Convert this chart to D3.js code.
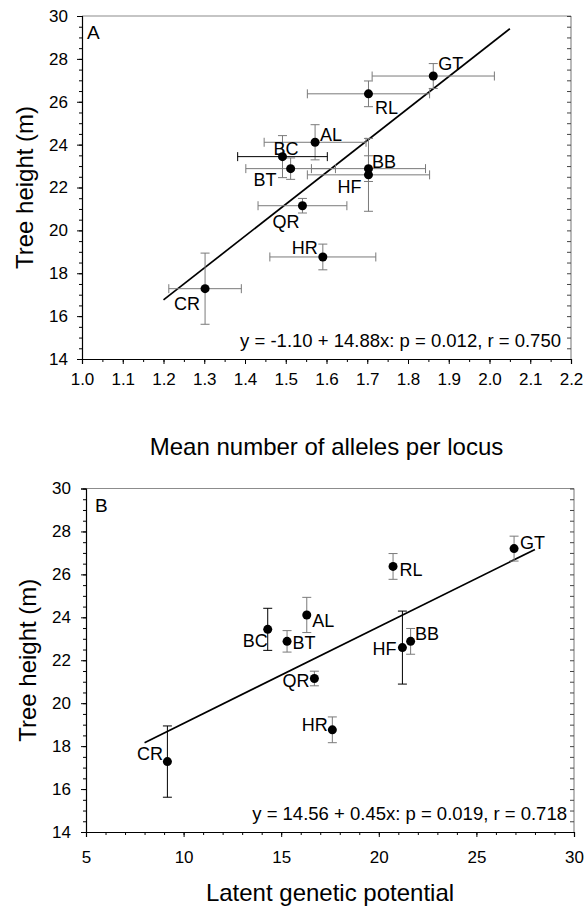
<!DOCTYPE html>
<html>
<head>
<meta charset="utf-8">
<script src="https://cdn.jsdelivr.net/npm/d3@7"></script>
<style>
  html, body { margin: 0; padding: 0; background: #fff; }
  svg { display: block; font-family: "Liberation Sans", Arial, Helvetica, sans-serif; }
</style>
</head>
<body>
<svg id="chart" width="587" height="908"></svg>
<script>
// ---------------- DATA ----------------
const sites = ["GT", "RL", "AL", "BC", "BT", "BB", "HF", "QR", "HR", "CR"];
const treeHeight = [27.20, 26.37, 24.11, 23.44, 22.88, 22.88, 22.59, 21.15, 18.76, 17.28];
const treeHeightErr = [0.58, 0.60, 0.82, 0.98, 0.50, 0.60, 1.70, 0.34, 0.60, 1.66];
const allelesPerLocus = [1.862, 1.703, 1.572, 1.492, 1.512, 1.703, 1.703, 1.541, 1.591, 1.302];
const allelesErr = [0.150, 0.150, 0.125, 0.110, 0.110, 0.140, 0.150, 0.109, 0.130, 0.089];
const latentPotential = [26.93, 20.73, 16.31, 14.31, 15.30, 21.63, 21.21, 16.70, 17.62, 9.17];

const fitA = { intercept: -1.10, slope: 14.88, xFrom: 1.2, xTo: 2.05 };
const fitB = { intercept: 14.56, slope: 0.45, xFrom: 8, xTo: 28 };
const statsA = "y = -1.10 + 14.88x: p = 0.012, r = 0.750";
const statsB = "y = 14.56 + 0.45x: p = 0.019, r = 0.718";

const xTicksA = d3.range(1.0, 2.2001, 0.1);
const xMinorA = d3.range(1.0, 2.2001, 0.05);
const xTicksB = [5, 10, 15, 20, 25, 30];
const xMinorB = d3.range(5, 30.001, 1);
const yTicks = [14, 16, 18, 20, 22, 24, 26, 28, 30];
const yMinor = d3.range(14, 30.001, 0.5);

// ---------------- LAYOUT / STYLE ----------------
// label offsets (px) from the point, and anchor
const labelPosA = {
  GT: [5, -6, "start"], RL: [6.5, 20.5, "start"], AL: [5, -1, "start"],
  BC: [-9, -2, "start"], BT: [-14, 17, "end"], BB: [3.5, -1, "start"],
  HF: [-7, 18.5, "end"], QR: [-3, 22.5, "end"], HR: [-5, -2.5, "end"],
  CR: [-5, 21.5, "end"]
};
const labelPosB = {
  GT: [6, 0, "start"], RL: [6.5, 9.5, "start"], AL: [5.5, 12, "start"],
  BC: [0, 17.5, "end"], BT: [5.5, 8, "start"], BB: [4.5, -1, "start"],
  HF: [-6, 7.5, "end"], QR: [-5, 8.5, "end"], HR: [-4.5, 1.5, "end"],
  CR: [-4.5, -2, "end"]
};
const blackBarsA = { BC: { h: true, v: false } };
const blackBarsB = { BC: { v: true }, CR: { v: true }, HF: { v: true } };

const svg = d3.select("#chart");
const GRAY = "#7a7a7a";

function panel(opts) {
  const g = svg.append("g");
  const x = d3.scaleLinear().domain(opts.xDomain).range([opts.left, opts.right]);
  const y = d3.scaleLinear().domain([14, 30]).range([opts.bottom, opts.top]);

  // frame top & right (gray)
  g.append("line").attr("x1", opts.left).attr("x2", opts.right)
    .attr("y1", opts.top).attr("y2", opts.top).attr("stroke", "#8c8c8c").attr("stroke-width", 1.2);
  g.append("line").attr("x1", opts.right).attr("x2", opts.right)
    .attr("y1", opts.top).attr("y2", opts.bottom).attr("stroke", "#8c8c8c").attr("stroke-width", 1.2);

  // right inward minor ticks
  const rightAx = g.append("g").attr("transform", `translate(${opts.right},0)`)
    .call(d3.axisLeft(y).tickValues(yMinor).tickSize(4).tickFormat(""));
  rightAx.select(".domain").remove();
  rightAx.selectAll(".tick line").attr("stroke", "#444");

  // left axis minor
  const lMinor = g.append("g").attr("transform", `translate(${opts.left},0)`)
    .call(d3.axisLeft(y).tickValues(yMinor).tickSize(3).tickFormat(""));
  lMinor.select(".domain").remove();
  // left axis major
  const lAx = g.append("g").attr("transform", `translate(${opts.left},0)`)
    .call(d3.axisLeft(y).tickValues(yTicks).tickSize(5).tickPadding(opts.yPad).tickFormat(d3.format("d")));
  lAx.selectAll("text").attr("font-size", 17).attr("fill", "#000").attr("font-family", null);
  lAx.select(".domain").attr("stroke", "#000");

  // bottom axis minor
  const bMinor = g.append("g").attr("transform", `translate(0,${opts.bottom})`)
    .call(d3.axisBottom(x).tickValues(opts.xMinor).tickSize(3).tickFormat(""));
  bMinor.select(".domain").remove();
  const bAx = g.append("g").attr("transform", `translate(0,${opts.bottom})`)
    .call(d3.axisBottom(x).tickValues(opts.xTicks).tickSize(5).tickPadding(opts.xPad).tickFormat(opts.xFmt));
  bAx.selectAll("text").attr("font-size", 17).attr("fill", "#000").attr("font-family", null);
  bAx.select(".domain").attr("stroke", "#000");
  g.selectAll(".tick line").attr("stroke-width", 1);
  g.selectAll(".domain").attr("stroke-width", 1.2);

  // axis titles
  g.append("text").attr("x", (opts.left + opts.right) / 2).attr("y", opts.xTitleY)
    .attr("text-anchor", "middle").attr("font-size", 24).text(opts.xTitle);
  g.append("text")
    .attr("transform", `translate(${opts.yTitleX},${(opts.top + opts.bottom) / 2}) rotate(-90)`)
    .attr("text-anchor", "middle").attr("font-size", 24).text("Tree height (m)");

  // panel letter
  g.append("text").attr("x", opts.left + opts.letterDx).attr("y", opts.top + 23)
    .attr("font-size", 19).text(opts.letter);

  // regression line
  g.append("line")
    .attr("x1", x(opts.fit.xFrom)).attr("y1", y(opts.fit.intercept + opts.fit.slope * opts.fit.xFrom))
    .attr("x2", x(opts.fit.xTo)).attr("y2", y(opts.fit.intercept + opts.fit.slope * opts.fit.xTo))
    .attr("stroke", "#000").attr("stroke-width", 1.7);

  const pts = sites.map((s, i) => ({
    site: s, x: opts.xs[i], xe: opts.xErr ? opts.xErr[i] : 0,
    y: treeHeight[i], ye: treeHeightErr[i]
  }));

  const cap = 4.5;
  const eb = g.append("g");
  pts.forEach(p => {
    const bl = opts.black[p.site] || {};
    // horizontal error bar
    if (p.xe > 0) {
      const c = bl.h ? "#000" : GRAY;
      const xa = x(p.x - p.xe), xb = x(p.x + p.xe), yy = y(p.y);
      eb.append("line").attr("x1", xa).attr("x2", xb).attr("y1", yy).attr("y2", yy).attr("stroke", c);
      eb.append("line").attr("x1", xa).attr("x2", xa).attr("y1", yy - cap).attr("y2", yy + cap).attr("stroke", c);
      eb.append("line").attr("x1", xb).attr("x2", xb).attr("y1", yy - cap).attr("y2", yy + cap).attr("stroke", c);
    }
    // vertical error bar
    const c = bl.v ? "#000" : GRAY;
    const xx = x(p.x), ya = y(p.y + p.ye), yb = y(p.y - p.ye);
    eb.append("line").attr("x1", xx).attr("x2", xx).attr("y1", ya).attr("y2", yb).attr("stroke", c);
    eb.append("line").attr("x1", xx - cap).attr("x2", xx + cap).attr("y1", ya).attr("y2", ya).attr("stroke", c);
    eb.append("line").attr("x1", xx - cap).attr("x2", xx + cap).attr("y1", yb).attr("y2", yb).attr("stroke", c);
  });

  g.append("g").selectAll("circle").data(pts).join("circle")
    .attr("cx", d => x(d.x)).attr("cy", d => y(d.y)).attr("r", 4.5).attr("fill", "#000");

  g.append("g").selectAll("text").data(pts).join("text")
    .attr("x", d => x(d.x) + opts.labels[d.site][0])
    .attr("y", d => y(d.y) + opts.labels[d.site][1])
    .attr("text-anchor", d => opts.labels[d.site][2])
    .attr("font-size", 18).text(d => d.site);

  // stats
  g.append("text").attr("x", opts.right - opts.statsDx).attr("y", opts.bottom - 12)
    .attr("text-anchor", "end").attr("font-size", 18.5).text(opts.stats);
}

panel({
  left: 82, right: 571, top: 16, bottom: 359,
  xDomain: [1.0, 2.2], xTicks: xTicksA, xMinor: xMinorA, xFmt: d3.format(".1f"),
  xs: allelesPerLocus, xErr: allelesErr, fit: fitA, stats: statsA,
  labels: labelPosA, black: blackBarsA, letter: "A", letterDx: 5,
  xTitle: "Mean number of alleles per locus", xTitleY: 455, yTitleX: 33,
  yPad: 9, xPad: 9, statsDx: 10
});

panel({
  left: 86, right: 574, top: 488.5, bottom: 832,
  xDomain: [5, 30], xTicks: xTicksB, xMinor: xMinorB, xFmt: d3.format("d"),
  xs: latentPotential, xErr: null, fit: fitB, stats: statsB,
  labels: labelPosB, black: blackBarsB, letter: "B", letterDx: 9,
  xTitle: "Latent genetic potential", xTitleY: 901, yTitleX: 36,
  yPad: 10, xPad: 14, statsDx: 7
});
</script>
</body>
</html>
